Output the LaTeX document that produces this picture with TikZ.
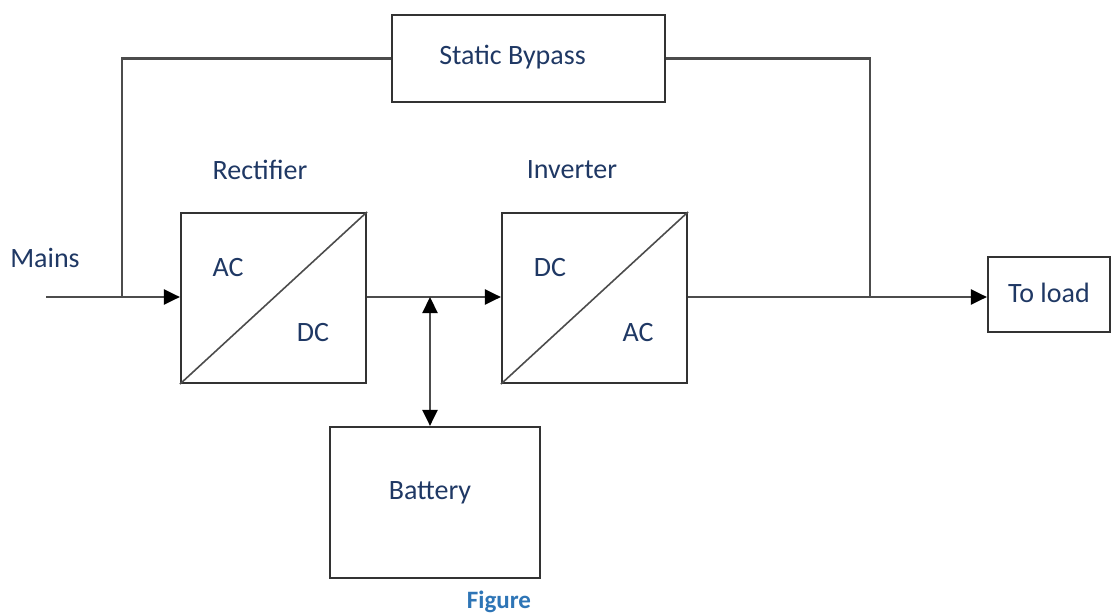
\documentclass[tikz,border=0pt]{standalone}
\usepackage{fontspec}
\setmainfont{Carlito}
\usetikzlibrary{arrows.meta}
\definecolor{navy}{RGB}{31,56,100}
\definecolor{figblue}{RGB}{46,117,182}
\begin{document}
\begin{tikzpicture}[
    x=1pt, y=-1pt,
  blk/.style={draw=black!80, line width=2.2pt, rectangle, inner sep=0pt},
  e/.style={draw=black!70, line width=2.2pt},
  tip/.style={-{Triangle[length=16pt,width=15pt,color=black]}},
  lab/.style={text=navy, font=\fontsize{28}{31}\selectfont, inner sep=0pt}
]
\useasboundingbox (0,0) rectangle (1113,615);

% --- blocks ---
\node[blk, minimum width=273pt, minimum height=87pt,
  label={[lab,xshift=-16pt,yshift=1pt]center:Static Bypass}] (bypass) at (528.5,58.5) {};
\node[blk, minimum width=185pt, minimum height=170pt] (rect) at (273.5,298) {};
\node[blk, minimum width=185pt, minimum height=170pt] (inv) at (594.5,298) {};
\node[blk, minimum width=210pt, minimum height=151pt,
  label={[lab,xshift=-5pt,yshift=10pt]center:Battery}] (bat) at (435,502.5) {};
\node[blk, minimum width=122pt, minimum height=75pt,
  label={[lab,yshift=2pt]center:To load}] (load) at (1049,294.5) {};

% --- converter diagonals ---
\draw[e, line width=1.6pt] (rect.south west) -- (rect.north east);
\draw[e, line width=1.6pt] (inv.south west) -- (inv.north east);

% --- texts ---
\node[lab] (mains) at (45,258) {Mains};
\node[lab] (rectlab) at (260,170) {Rectifier};
\node[lab] (invlab) at (572,170) {Inverter};
\node[lab] (rac) at (228,268) {AC};
\node[lab] (rdc) at (313,333) {DC};
\node[lab] (idc) at (550,268) {DC};
\node[lab] (iac) at (638,333) {AC};
\node[text=figblue, font=\fontsize{25}{28}\selectfont\bfseries, inner sep=0pt] (fig) at (499,602) {Figure};

% --- junctions ---
\coordinate (in) at (46,297);
\coordinate (split) at (122,297);
\coordinate (tap) at (430,297);
\coordinate (join) at (870,297);

% --- connectors ---
\draw[e, tip] (in) -- (rect.west |- in);
\draw[e] (split) |- (bypass.west);
\draw[e] (bypass.east) -| (join);
\draw[e, tip] (rect.east |- in) -- (inv.west |- in);
\draw[e, {Triangle[length=16pt,width=15pt,color=black]}-{Triangle[length=16pt,width=15pt,color=black]}] (tap) -- (tap |- bat.north);
\draw[e, tip] (inv.east |- in) -- (load.west |- in);
\end{tikzpicture}
\end{document}
